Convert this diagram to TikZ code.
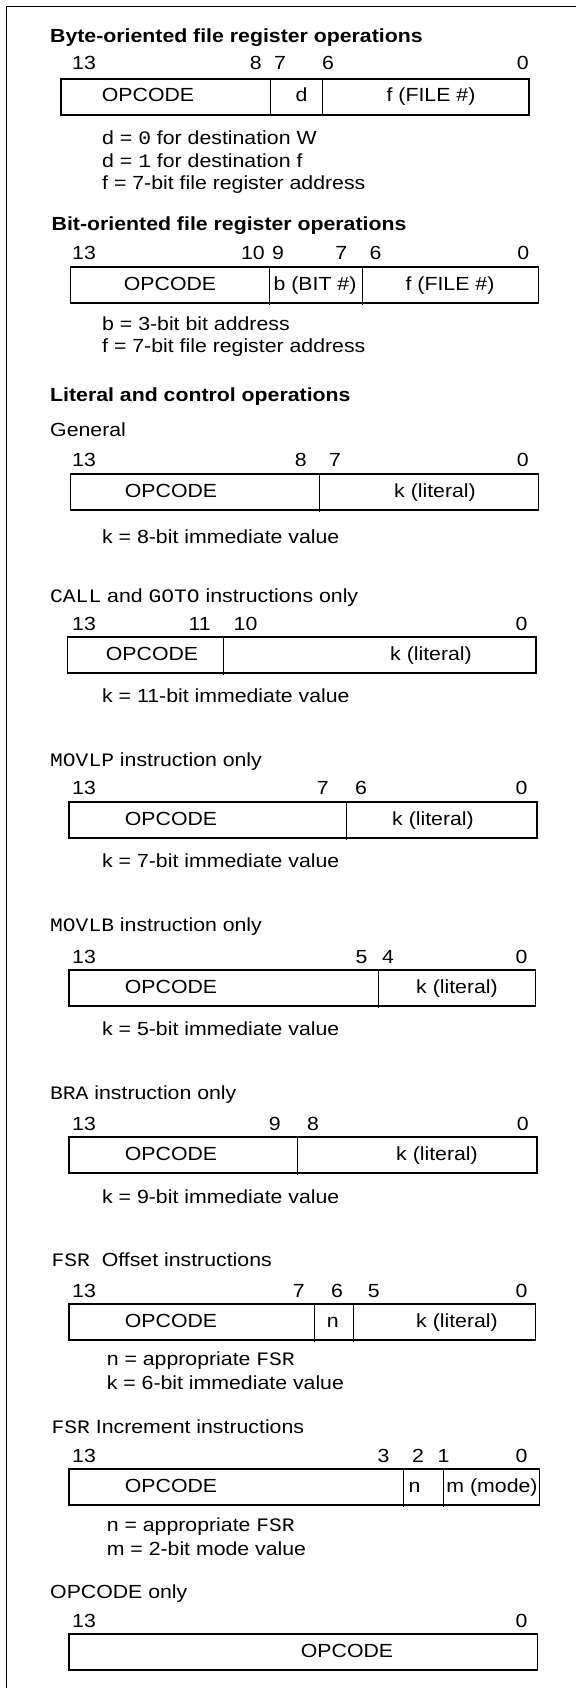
\documentclass[tikz,border=0pt]{standalone}
\usepackage{fontspec}
\setmainfont{Liberation Sans}[FakeStretch=1.12]
\setmonofont{Liberation Mono}[FakeStretch=1.12]
\newcommand{\txtsize}{\fontsize{19}{22}\selectfont}

\begin{document}
\begin{tikzpicture}[
    x=1pt, y=-1pt,
    frame/.style={line width=1.5pt},
    regbox/.style={draw, line width=1.4pt},
    divider/.style={line width=1pt},
    ttl/.style={font=\bfseries\txtsize, anchor=base west, inner sep=0pt},
    sub/.style={font=\txtsize, anchor=base west, inner sep=0pt},
    hibit/.style={font=\txtsize, anchor=base east, inner sep=0pt},
    lobit/.style={font=\txtsize, anchor=base west, inner sep=0pt},
    fld/.style={font=\txtsize, anchor=base, inner sep=0pt},
    note/.style={font=\txtsize, anchor=base west, inner sep=0pt}
]
    \useasboundingbox (0,0) rectangle (576,1688);
    \draw[frame] (576,6.7) -- (6.7,6.7) -- (6.7,1688);

    % Byte-oriented
    \node[ttl] (byteTitle) at (50,42.5) {Byte-oriented file register operations};
    \node[lobit] (byteB13) at (72,70) {13};
    \node[hibit] (byteB8) at (262,70) {8};
    \node[lobit] (byteB7) at (274,70) {7};
    \node[lobit] (byteB6) at (322,70) {6};
    \node[hibit] (byteB0) at (529,70) {0};
    \draw[regbox] (61,79) rectangle (529,115);
    \draw[divider] (270,79) -- (270,116.5);
    \draw[divider] (322,79) -- (322,116.5);
    \node[fld] (byteOp) at (148,102) {OPCODE};
    \node[fld] (byteD) at (301.5,102) {d};
    \node[fld] (byteF) at (431,102) {f (FILE \#)};
    \node[note] (byteN1) at (102,145) {d = \texttt{0} for destination W};
    \node[note] (byteN2) at (102,167.5) {d = \texttt{1} for destination f};
    \node[note] (byteN3) at (102,190) {f = 7-bit file register address};

    % Bit-oriented
    \node[ttl] (bitTitle) at (51.5,231) {Bit-oriented file register operations};
    \node[lobit] (bitB13) at (72,259.5) {13};
    \node[hibit] (bitB10) at (265,259.5) {10};
    \node[lobit] (bitB9) at (272,259.5) {9};
    \node[hibit] (bitB7) at (347.4,259.5) {7};
    \node[lobit] (bitB6) at (369.5,259.5) {6};
    \node[hibit] (bitB0) at (529.4,259.5) {0};
    \draw[regbox] (70.5,267) rectangle (538.5,303);
    \draw[divider] (269.5,267) -- (269.5,304.5);
    \draw[divider] (362,267) -- (362,304.5);
    \node[fld] (bitOp) at (170,290) {OPCODE};
    \node[fld] (bitB) at (315,290) {b (BIT \#)};
    \node[fld] (bitF) at (450,290) {f (FILE \#)};
    \node[note] (bitN1) at (102,330) {b = 3-bit bit address};
    \node[note] (bitN2) at (102,352) {f = 7-bit file register address};

    % Literal and control, general
    \node[ttl] (litTitle) at (50,401) {Literal and control operations};
    \node[sub] (genTitle) at (50,436) {General};
    \node[lobit] (genB13) at (72,466) {13};
    \node[hibit] (genB8) at (307,466) {8};
    \node[lobit] (genB7) at (329,466) {7};
    \node[hibit] (genB0) at (529,466) {0};
    \draw[regbox] (70.5,474) rectangle (538.5,510);
    \draw[divider] (319,474) -- (319,511.5);
    \node[fld] (genOp) at (171,497) {OPCODE};
    \node[fld] (genK) at (435,497) {k (literal)};
    \node[note] (genN1) at (102,543) {k = 8-bit immediate value};

    % CALL and GOTO
    \node[sub] (callTitle) at (50,602) {\texttt{CALL} and \texttt{GOTO} instructions only};
    \node[lobit] (callB13) at (72,630) {13};
    \node[hibit] (callB11) at (211,630) {11};
    \node[lobit] (callB10) at (233.5,630) {10};
    \node[hibit] (callB0) at (527.6,630) {0};
    \draw[regbox] (67.3,637) rectangle (536,673);
    \draw[divider] (223.5,637) -- (223.5,674.5);
    \node[fld] (callOp) at (152,660) {OPCODE};
    \node[fld] (callK) at (431,660) {k (literal)};
    \node[note] (callN1) at (102,702.5) {k = 11-bit immediate value};

    % MOVLP
    \node[sub] (movlpTitle) at (50,766) {\texttt{MOVLP} instruction only};
    \node[lobit] (movlpB13) at (72,794) {13};
    \node[hibit] (movlpB7) at (329,794) {7};
    \node[lobit] (movlpB6) at (355,794) {6};
    \node[hibit] (movlpB0) at (527.6,794) {0};
    \draw[regbox] (68.8,802) rectangle (537,838);
    \draw[divider] (346.7,802) -- (346.7,839.5);
    \node[fld] (movlpOp) at (171,825) {OPCODE};
    \node[fld] (movlpK) at (433,825) {k (literal)};
    \node[note] (movlpN1) at (102,867.5) {k = 7-bit immediate value};

    % MOVLB
    \node[sub] (movlbTitle) at (50,931) {\texttt{MOVLB} instruction only};
    \node[lobit] (movlbB13) at (72,963) {13};
    \node[hibit] (movlbB5) at (367.6,963) {5};
    \node[lobit] (movlbB4) at (382,963) {4};
    \node[hibit] (movlbB0) at (527.6,963) {0};
    \draw[regbox] (68.8,970) rectangle (535.7,1006);
    \draw[divider] (378,970) -- (378,1007.5);
    \node[fld] (movlbOp) at (171,993) {OPCODE};
    \node[fld] (movlbK) at (457,993) {k (literal)};
    \node[note] (movlbN1) at (102,1035) {k = 5-bit immediate value};

    % BRA
    \node[sub] (braTitle) at (50,1099) {\texttt{BRA} instruction only};
    \node[lobit] (braB13) at (72,1130) {13};
    \node[hibit] (braB9) at (281,1130) {9};
    \node[lobit] (braB8) at (307,1130) {8};
    \node[hibit] (braB0) at (529,1130) {0};
    \draw[regbox] (68.8,1137) rectangle (537,1173);
    \draw[divider] (297,1137) -- (297,1174.5);
    \node[fld] (braOp) at (171,1160) {OPCODE};
    \node[fld] (braK) at (437,1160) {k (literal)};
    \node[note] (braN1) at (102,1203.5) {k = 9-bit immediate value};

    % FSR offset
    \node[sub] (offTitle) at (51.5,1266) {\texttt{FSR}\ \ Offset instructions};
    \node[lobit] (offB13) at (72,1297) {13};
    \node[hibit] (offB7) at (305,1297) {7};
    \node[lobit] (offB6) at (331,1297) {6};
    \node[lobit] (offB5) at (367.6,1297) {5};
    \node[hibit] (offB0) at (527.6,1297) {0};
    \draw[regbox] (68.8,1304) rectangle (535.7,1340);
    \draw[divider] (314,1304) -- (314,1341.5);
    \draw[divider] (353.7,1304) -- (353.7,1341.5);
    \node[fld] (offOp) at (171,1327) {OPCODE};
    \node[fld] (offN) at (332.7,1327) {n};
    \node[fld] (offK) at (457,1327) {k (literal)};
    \node[note] (offN1) at (106.6,1365.5) {n = appropriate \texttt{FSR}};
    \node[note] (offN2) at (106.6,1389) {k = 6-bit immediate value};

    % FSR increment
    \node[sub] (incTitle) at (51.5,1433) {\texttt{FSR} Increment instructions};
    \node[lobit] (incB13) at (72,1462) {13};
    \node[hibit] (incB3) at (389.7,1462) {3};
    \node[lobit] (incB2) at (411.8,1462) {2};
    \node[lobit] (incB1) at (437.5,1462) {1};
    \node[hibit] (incB0) at (527.6,1462) {0};
    \draw[regbox] (68.8,1469) rectangle (539.7,1505);
    \draw[divider] (403.7,1469) -- (403.7,1506.5);
    \draw[divider] (443,1469) -- (443,1506.5);
    \node[fld] (incOp) at (171,1492) {OPCODE};
    \node[fld] (incN) at (414.5,1492) {n};
    \node[fld] (incM) at (492,1492) {m (mode)};
    \node[note] (incN1) at (106.6,1531.5) {n = appropriate \texttt{FSR}};
    \node[note] (incN2) at (106.6,1555) {m = 2-bit mode value};

    % OPCODE only
    \node[sub] (opTitle) at (50,1598) {OPCODE only};
    \node[lobit] (opB13) at (72,1627) {13};
    \node[hibit] (opB0) at (527.6,1627) {0};
    \draw[regbox] (69,1634) rectangle (537.5,1670);
    \node[fld] (opOp) at (347,1657) {OPCODE};
\end{tikzpicture}
\end{document}
